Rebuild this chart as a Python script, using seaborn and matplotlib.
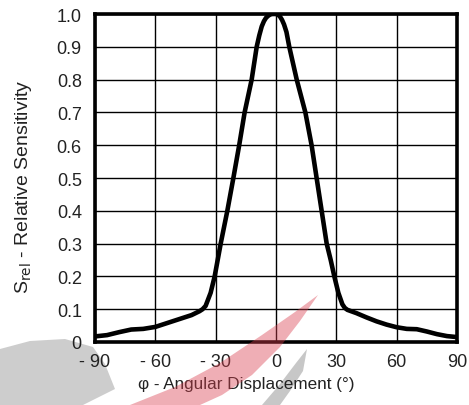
import matplotlib
matplotlib.use("Agg")
import matplotlib.pyplot as plt
import seaborn as sns
import pandas as pd
from matplotlib.patches import Polygon

angle = [-90, -84, -78, -72, -66, -60, -54, -48, -42, -38, -36.5, -35, -32.5,
         -30.5, -27.5, -24.2, -21.2, -18.3, -15.6, -12.1, -9.6, -8.3, -7.1,
         -6, -5, -4, -3, -2, -1, 0, 1, 2, 3, 4, 5.2, 6.6, 10.3, 14.6, 17.7,
         20.2, 22.7, 25.2, 27.2, 29, 31, 33, 34.2, 35.5, 40, 45, 50, 55, 60,
         65, 70, 75, 80, 85, 90]
sensitivity = [0.017, 0.021, 0.030, 0.038, 0.040, 0.046, 0.058, 0.070, 0.082,
               0.094, 0.100, 0.110, 0.150, 0.200, 0.300, 0.400, 0.500, 0.600,
               0.700, 0.800, 0.900, 0.935, 0.962, 0.978, 0.988, 0.994, 0.998,
               1.000, 1.000, 1.000, 0.998, 0.992, 0.982, 0.968, 0.945, 0.900,
               0.800, 0.700, 0.600, 0.500, 0.400, 0.300, 0.250, 0.200, 0.150,
               0.115, 0.104, 0.098, 0.088, 0.075, 0.063, 0.053, 0.045, 0.040,
               0.039, 0.032, 0.024, 0.018, 0.015]
x_ticks = [-90, -60, -30, 0, 30, 60, 90]
x_tick_labels = ["- 90", "- 60", "- 30", "0", "30", "60", "90"]
y_ticks = [0, 0.1, 0.2, 0.3, 0.4, 0.5, 0.6, 0.7, 0.8, 0.9, 1.0]
y_tick_labels = ["0", "0.1", "0.2", "0.3", "0.4", "0.5", "0.6", "0.7", "0.8", "0.9", "1.0"]

df = pd.DataFrame({"angle": angle, "sensitivity": sensitivity})

sns.set_theme(style="white")
plt.rcParams["font.family"] = ["Liberation Sans", "DejaVu Sans"]

W, H = 469, 406
fig = plt.figure(figsize=(W / 100, H / 100), dpi=100)
ax = fig.add_axes([95 / W, 1 - 343 / H, (457 - 95) / W, (343 - 15) / H])

sns.lineplot(data=df, x="angle", y="sensitivity", ax=ax, color="black",
             linewidth=3.3, zorder=3)

ax.set_xlim(-90, 90)
ax.set_ylim(0, 1.0)
ax.set_xticks(x_ticks)
ax.set_xticklabels(x_tick_labels)
ax.set_yticks(y_ticks)
ax.set_yticklabels(y_tick_labels)
ax.tick_params(axis="both", length=0, labelsize=13, colors="#222222")
ax.tick_params(axis="x", pad=8)
ax.tick_params(axis="y", pad=9.5)
ax.grid(True, color="black", linewidth=1.0)
for s in ax.spines.values():
    s.set_color("black")
    s.set_linewidth(2.6)
    s.set_zorder(4)

ax.set_xlabel("φ - Angular Displacement (°)", fontsize=12.3, color="#222222")
ax.set_ylabel("S$_{\\mathrm{rel}}$ - Relative Sensitivity", fontsize=14, color="#222222")
ax.xaxis.set_label_coords((246.5 - 95) / 362, (343 - 385) / 328)
ax.xaxis.label.set_va("center")
ax.yaxis.set_label_coords((23.5 - 95) / 362, (343 - 186.5) / 328)
ax.yaxis.label.set_va("center")

def px(points):
    return [(x / W, 1 - y / H) for x, y in points]

gray_big = [(0, 350), (30, 342), (65, 340), (93, 348), (105, 365), (115, 390),
            (83, 406), (0, 406)]
red_swoosh = [(130, 406), (175, 388), (220, 364), (262, 336), (295, 313), (318, 296),
              (300, 322), (280, 348), (252, 376), (222, 396), (200, 406)]
gray_thin = [(262, 406), (280, 385), (296, 364), (307, 350), (303, 372), (290, 392), (280, 406)]

fig.patches.append(Polygon(px(gray_big), closed=True, transform=fig.transFigure,
                           facecolor="#c8c8c8", edgecolor="none", alpha=0.9, zorder=0))
fig.patches.append(Polygon(px(red_swoosh), closed=True, transform=fig.transFigure,
                           facecolor="#d9404f", edgecolor="none", alpha=0.42, zorder=10))
fig.patches.append(Polygon(px(gray_thin), closed=True, transform=fig.transFigure,
                           facecolor="#b0b0b0", edgecolor="none", alpha=0.7, zorder=0))
ax.set_zorder(1)
ax.patch.set_alpha(0)

fig.savefig("out.png", dpi=100)
